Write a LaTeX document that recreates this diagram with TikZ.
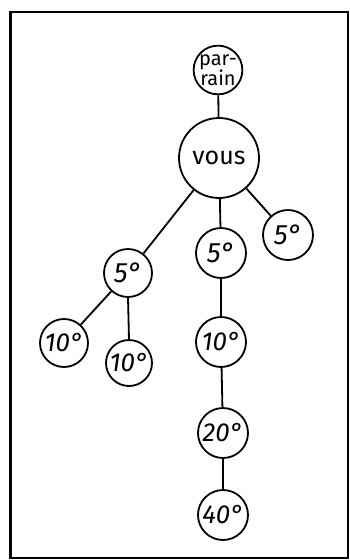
\documentclass[tikz,border=0pt]{standalone}
\usepackage{fontspec}
\setmainfont{Fira Sans}
\begin{document}
\begin{tikzpicture}[x=1pt,y=-1pt,
  circ/.style={circle,draw,line width=1.8pt,inner sep=0pt,minimum size=#1},
  deg/.style={circ=50pt,font=\fontsize{28}{28}\selectfont\itshape},
  deg2/.style={circ=50pt,font=\fontsize{26}{26}\selectfont\itshape},
  link/.style={line width=1.8pt}]
\useasboundingbox (0,0) rectangle (349,560);
\draw[line width=2pt] (10,12) -- (349,12);
\draw[line width=3pt] (10,11) -- (10,558);
\draw[line width=1.2pt] (9,558) -- (349,558);
\draw[line width=1.2pt] (348,12) -- (348,558);
\node[circ=48pt,font=\fontsize{20}{15}\selectfont,align=center] (par) at (218,70) {par-\\[-1pt]rain};
\node[circ=80pt,font=\fontsize{25}{25}\selectfont] (vous) at (219,158) {vous};
\node[deg] (r5) at (288,235) {5°};
\node[deg] (m5) at (221,253) {5°};
\node[deg,circ=48pt] (l5) at (128,273) {5°};
\node[deg2,circ=48pt] (a10) at (64,343) {10°};
\node[deg2,circ=46pt] (b10) at (129,363) {10°};
\node[deg2] (m10) at (221,342) {10°};
\node[deg2] (m20) at (223,433) {20°};
\node[deg2] (m40) at (223,515) {40°};
\draw[link] (par) -- (vous);
\draw[link] (vous) -- (l5);
\draw[link] (vous) -- (m5);
\draw[link] (vous) -- (r5);
\draw[link] (l5) -- (a10);
\draw[link] (l5.south) -- (b10.north);
\draw[link] (m5) -- (m10);
\draw[link] (m10) -- (m20);
\draw[link] (m20) -- (m40);
\end{tikzpicture}
\end{document}
